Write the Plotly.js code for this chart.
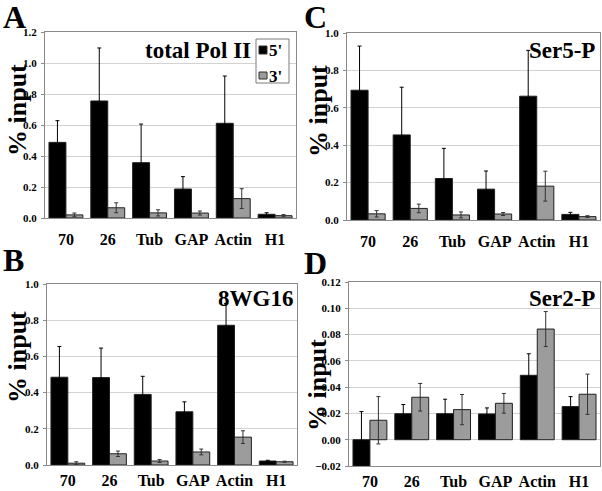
<!DOCTYPE html>
<html>
<head>
<meta charset="utf-8">
<script src="https://cdn.plot.ly/plotly-3.0.1.min.js"></script>
<style>html,body{margin:0;padding:0;background:#fff;}#chart{width:602px;height:491px;}</style>
</head>
<body>
<div id="chart"></div>
<script>
// ---- data ----
const categories = ['70', '26', 'Tub', 'GAP', 'Actin', 'H1'];

const A_5p = [0.488, 0.755, 0.357, 0.187, 0.611, 0.024];
const A_5pErr = [0.140, 0.342, 0.249, 0.080, 0.305, 0.010];
const A_3p = [0.020, 0.066, 0.033, 0.032, 0.125, 0.015];
const A_3pErr = [0.012, 0.032, 0.020, 0.013, 0.064, 0.007];

const C_5p = [0.694, 0.455, 0.222, 0.165, 0.662, 0.030];
const C_5pErr = [0.236, 0.255, 0.161, 0.097, 0.245, 0.011];
const C_3p = [0.033, 0.062, 0.027, 0.032, 0.181, 0.018];
const C_3pErr = [0.017, 0.023, 0.016, 0.008, 0.080, 0.005];

const B_5p = [0.485, 0.483, 0.390, 0.294, 0.772, 0.022];
const B_5pErr = [0.170, 0.163, 0.100, 0.055, 0.121, 0.004];
const B_3p = [0.010, 0.062, 0.022, 0.072, 0.154, 0.018];
const B_3pErr = [0.008, 0.015, 0.008, 0.016, 0.035, 0.003];

const D_5p = [-0.0201, 0.0198, 0.0198, 0.0196, 0.0490, 0.0252];
const D_5pErr = [0.0415, 0.0070, 0.0110, 0.0046, 0.0164, 0.0076];
const D_3p = [0.0148, 0.0323, 0.0229, 0.0277, 0.0842, 0.0346];
const D_3pErr = [0.0180, 0.0105, 0.0115, 0.0075, 0.0133, 0.0153];

const panelTitles = ['total Pol II', 'Ser5-P', '8WG16', 'Ser2-P'];
const seriesNames = ["5'", "3'"];
const yTitle = '% input';

// ---- build ----
const FONT = '"Liberation Serif", "Times New Roman", serif';
const W = 602, H = 491;
const BLACK = '#000000', GRAY = '#9c9c9c';

function barTrace(x, y, err, color, errColor, name, ax) {
  return {
    type: 'bar', x: x, y: y, name: name,
    xaxis: 'x' + ax, yaxis: 'y' + ax,
    marker: {color: color, line: {color: '#202020', width: 1}},
    error_y: {type: 'data', array: err, visible: true, color: errColor, thickness: 1, width: 2},
    showlegend: false, hoverinfo: 'skip'
  };
}

const panels = [
  {ax: '', s5: A_5p, e5: A_5pErr, s3: A_3p, e3: A_3pErr},
  {ax: '2', s5: C_5p, e5: C_5pErr, s3: C_3p, e3: C_3pErr},
  {ax: '3', s5: B_5p, e5: B_5pErr, s3: B_3p, e3: B_3pErr},
  {ax: '4', s5: D_5p, e5: D_5pErr, s3: D_3p, e3: D_3pErr}
];

const data = [];
panels.forEach(p => {
  data.push(barTrace(categories, p.s5, p.e5, BLACK, '#000000', seriesNames[0], p.ax));
  data.push(barTrace(categories, p.s3, p.e3, GRAY, '#333333', seriesNames[1], p.ax));
});

// pixel boxes for plot areas [left, right, top, bottom]
const boxes = [
  [45, 296, 32, 218],
  [347, 600, 33, 220],
  [47, 297, 284, 465],
  [349, 600, 282, 466]
];
const yRanges = [[0, 1.2], [0, 1.0], [0, 1.0], [-0.02, 0.12]];
const yDticks = [0.2, 0.2, 0.2, 0.02];
const yFormats = ['.1f', '.1f', '.1f', '.2f'];
const xStandoff = [7, 7, 1, 1];

const layout = {
  width: W, height: H,
  margin: {l: 0, r: 0, t: 0, b: 0},
  paper_bgcolor: '#ffffff', plot_bgcolor: '#ffffff',
  barmode: 'group', bargap: 0.19, bargroupgap: 0,
  font: {family: FONT, color: '#000', weight: 'bold'},
  showlegend: false,
  annotations: [], shapes: []
};

boxes.forEach((b, i) => {
  const sfx = i === 0 ? '' : String(i + 1);
  layout['xaxis' + sfx] = {
    domain: [b[0] / W, b[1] / W],
    anchor: 'y' + sfx,
    type: 'category',
    showline: true, linecolor: '#8a8a8a', linewidth: 1, mirror: true,
    ticks: '', showgrid: false, zeroline: false,
    tickfont: {family: FONT, size: 16, color: '#000', weight: 'bold'},
    ticklabelstandoff: xStandoff[i],
    fixedrange: true
  };
  layout['yaxis' + sfx] = {
    domain: [1 - b[3] / H, 1 - b[2] / H],
    anchor: 'x' + sfx,
    range: yRanges[i], dtick: yDticks[i], tick0: 0, tickformat: yFormats[i],
    showline: true, linecolor: '#8a8a8a', linewidth: 1, mirror: true,
    ticks: 'outside', ticklen: 3, tickcolor: '#8a8a8a',
    showgrid: true, gridcolor: '#d2d2d2', gridwidth: 1, zeroline: false,
    tickfont: {family: FONT, size: 11, color: '#000', weight: 'bold'},
    ticklabelstandoff: 2,
    fixedrange: true
  };
});

function ann(text, x, y, size, opts) {
  return Object.assign({
    text: text, x: x / W, y: 1 - y / H, xref: 'paper', yref: 'paper',
    showarrow: false, font: {family: FONT, size: size, color: '#000', weight: 'bold'},
    xanchor: 'center', yanchor: 'middle', borderpad: 0
  }, opts || {});
}

// panel letters
layout.annotations.push(ann('A', 14, 17, 32));
layout.annotations.push(ann('C', 315, 17, 32));
layout.annotations.push(ann('B', 13, 260, 32));
layout.annotations.push(ann('D', 315, 263, 32));

// panel titles (right aligned)
layout.annotations.push(ann(panelTitles[0], 252, 51, 23, {xanchor: 'right'}));
layout.annotations.push(ann(panelTitles[1], 596, 50, 23, {xanchor: 'right'}));
layout.annotations.push(ann(panelTitles[2], 294, 298, 23, {xanchor: 'right'}));
layout.annotations.push(ann(panelTitles[3], 596, 298, 23, {xanchor: 'right'}));

// y titles
layout.annotations.push(ann(yTitle, 17, 110, 26, {textangle: -90}));
layout.annotations.push(ann(yTitle, 318, 111, 26, {textangle: -90}));
layout.annotations.push(ann(yTitle, 17, 357, 26, {textangle: -90}));
layout.annotations.push(ann(yTitle, 317, 385, 26, {textangle: -90}));

// legend box in panel A
function rectPx(x0, y0, x1, y1, fill, line) {
  return {type: 'rect', xref: 'paper', yref: 'paper',
    x0: x0 / W, x1: x1 / W, y0: 1 - y1 / H, y1: 1 - y0 / H,
    fillcolor: fill, line: {color: line, width: 1}, layer: 'above'};
}
layout.shapes.push(rectPx(256, 39, 289, 83, '#ffffff', '#7a7a7a'));
layout.shapes.push(rectPx(259, 46, 267, 54, BLACK, '#303030'));
layout.shapes.push(rectPx(259, 72, 267, 79, GRAY, '#303030'));
layout.annotations.push(ann(seriesNames[0], 268, 50, 17, {xanchor: 'left'}));
layout.annotations.push(ann(seriesNames[1], 268, 76, 17, {xanchor: 'left'}));

Plotly.newPlot('chart', data, layout, {staticPlot: true, displayModeBar: false});
</script>
</body>
</html>
